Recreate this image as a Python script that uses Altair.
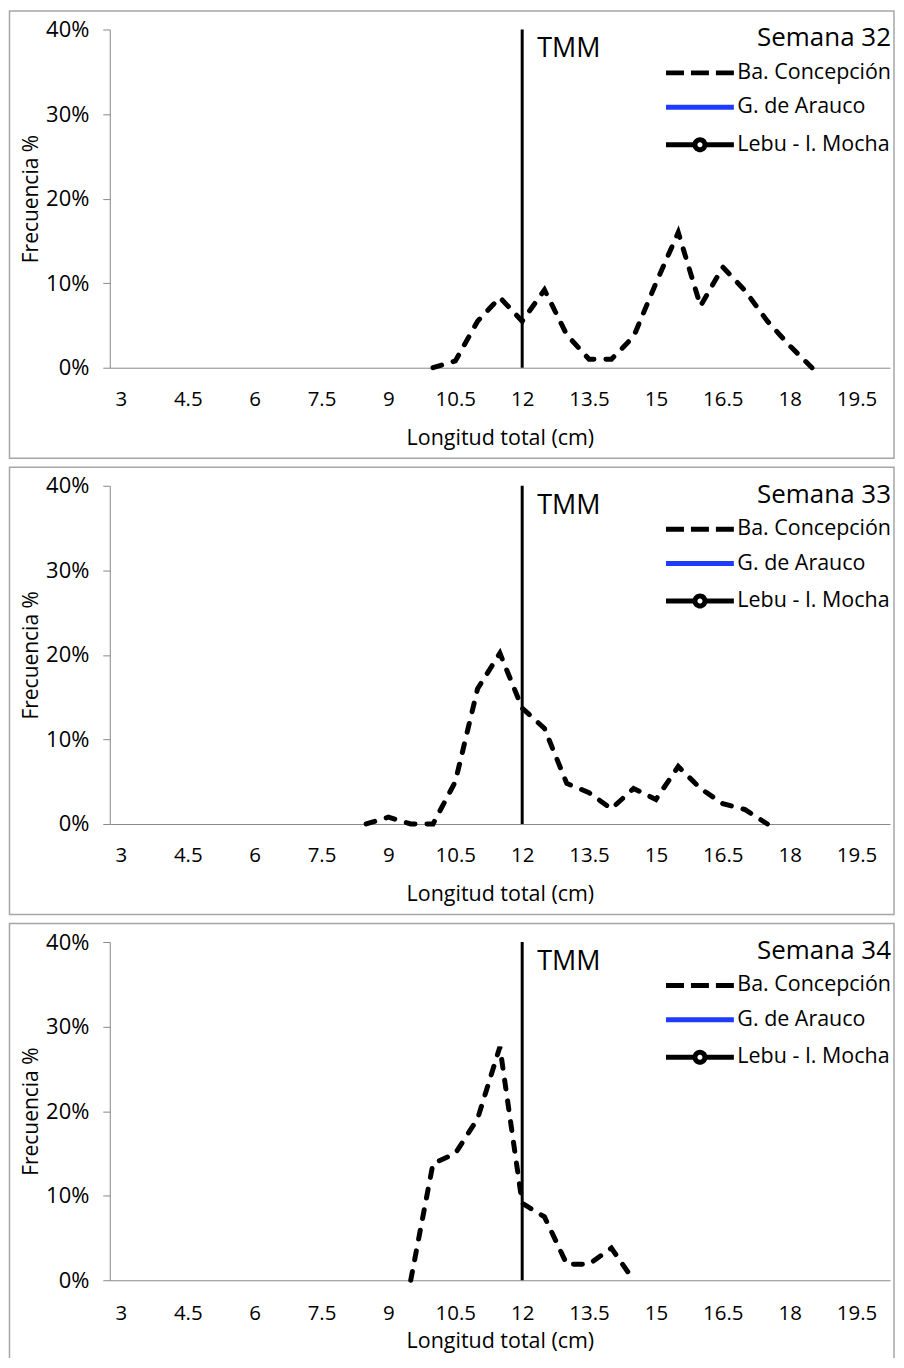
import altair as alt
import pandas as pd

FONT = "Open Sans"

# x axis tick labels (cm)
tick_labels = [3, 4.5, 6, 7.5, 9, 10.5, 12, 13.5, 15, 16.5, 18, 19.5]
y_ticks = [0, 0.1, 0.2, 0.3, 0.4]
tmm = 12

series = ["Ba. Concepción", "G. de Arauco", "Lebu - I. Mocha"]
series_colors = ["#000000", "#1e3cff", "#000000"]
legend_dash = [[18, 7], [1, 0], [1, 0]]
series_shapes = [
    "M-3.4,0L3.4,0",
    "M-3.4,0L3.4,0",
    "M-3.4,0L-0.5,0M0.5,0L3.4,0M-0.5,0A0.5,0.5,0,1,0,0.5,0A0.5,0.5,0,1,0,-0.5,0Z",
]

# Semana 32 - Ba. Concepción
w32_len = [10, 10.5, 11, 11.5, 12, 12.5, 13, 13.5, 14, 14.5, 15, 15.5, 16, 16.5, 17, 17.5, 18, 18.5]
w32_pct = [0, 0.8, 5.5, 8.3, 5.5, 9.2, 3.9, 1.0, 1.0, 3.7, 10.0, 16.0, 7.3, 11.9, 9.1, 5.5, 2.6, 0]

# Semana 33 - Ba. Concepción
w33_len = [8.5, 9, 9.5, 10, 10.5, 11, 11.5, 12, 12.5, 13, 13.5, 14, 14.5, 15, 15.5, 16, 16.5, 17, 17.5]
w33_pct = [0, 0.8, 0, 0, 5.0, 16.0, 20.2, 13.7, 11.3, 4.8, 3.7, 1.8, 4.2, 2.9, 6.8, 4.2, 2.4, 1.7, 0]

# Semana 34 - Ba. Concepción
w34_len = [9.5, 10, 10.5, 11, 11.5, 12, 12.5, 13, 13.5, 14, 14.5]
w34_pct = [0, 13.8, 15.0, 19.1, 27.6, 9.1, 7.5, 1.9, 1.9, 3.8, 0]

W = 782
H = 339
FRAME_L = -100.5
FRAME_R = W + 4
FRAME_T = -18.5


def panel(lengths, pcts, week, frame_bottom, open_bottom, x_label_pad, x_title_pad):
    df = pd.DataFrame({
        "longitud": lengths,
        "frecuencia": [p / 100 for p in pcts],
        "serie": [series[0]] * len(lengths),
    })
    empty = pd.DataFrame({
        "longitud": pd.Series([], dtype=float),
        "frecuencia": pd.Series([], dtype=float),
        "serie": pd.Series([], dtype=str),
    })
    tmm_df = pd.DataFrame({"longitud": [tmm], "label": ["TMM"]})

    x = alt.X(
        "longitud:Q",
        scale=alt.Scale(domain=[2.75, 20.25], nice=False, zero=False),
        axis=alt.Axis(
            values=tick_labels, format=".1~f", title="Longitud total (cm)",
            ticks=False, grid=False, labelPadding=x_label_pad, titlePadding=x_title_pad,
            labelFontSize=20.5, titleFontSize=21.5, labelFont=FONT, titleFont=FONT,
            titleFontWeight="normal", domainColor="#888888", labelColor="#000000",
            titleColor="#000000", labelFlush=False,
        ),
    )
    y = alt.Y(
        "frecuencia:Q",
        scale=alt.Scale(domain=[0, 0.4], nice=False, zero=True),
        axis=alt.Axis(
            values=y_ticks, format=".0%", title="Frecuencia %", grid=False,
            tickSize=7, tickColor="#888888", domainColor="#888888",
            labelPadding=14, titlePadding=4.5, labelFontSize=22, titleFontSize=21,
            labelFont=FONT, titleFont=FONT, titleFontWeight="normal",
            labelColor="#000000", titleColor="#000000",
        ),
    )
    legend = alt.Legend(
        title=f"Semana {week}", orient="none", legendX=579, legendY=-4,
        titleFontSize=26, titleFont=FONT, titleFontWeight="normal", titleColor="#000000",
        titleAnchor="end", titleAlign="right", titlePadding=9,
        labelFontSize=21.5, labelFont=FONT, labelColor="#000000", labelOffset=25,
        symbolSize=400, symbolStrokeWidth=5, symbolOpacity=1, rowPadding=11.5, padding=0,
    )
    color = alt.Color("serie:N", scale=alt.Scale(domain=series, range=series_colors), legend=legend)
    dash = alt.StrokeDash("serie:N", scale=alt.Scale(domain=series, range=legend_dash), legend=legend)
    shape = alt.Shape("serie:N", scale=alt.Scale(domain=series, range=series_shapes), legend=legend)

    fw = FRAME_R - FRAME_L
    fh = frame_bottom - FRAME_T
    frame_style = dict(fillOpacity=0, stroke="#a6a6a6", strokeWidth=1.5)
    if open_bottom:
        # frame continues past the bottom of the page: no bottom edge
        frame_style["strokeDash"] = [fw + fh, fw, fh + 10, 0]
    border = alt.Chart(tmm_df).mark_rect(**frame_style).encode(
        x=alt.value(FRAME_L), x2=alt.value(FRAME_R), y=alt.value(FRAME_T), y2=alt.value(frame_bottom)
    )
    line = alt.Chart(df).mark_line(
        strokeWidth=5, strokeCap="round", strokeDash=[9, 12]
    ).encode(x=x, y=y, color=color)
    pts = alt.Chart(empty).mark_point(strokeWidth=5, filled=False, opacity=1).encode(
        x=x, y=y, color=color, shape=shape, strokeDash=dash
    )
    rule = alt.Chart(tmm_df).mark_rule(color="#000000", strokeWidth=3).encode(
        x="longitud:Q", y=alt.datum(0), y2=alt.datum(0.4)
    )
    text = alt.Chart(tmm_df).mark_text(
        align="left", baseline="middle", dx=15, dy=20, fontSize=27, font=FONT, color="#000000"
    ).encode(x="longitud:Q", y=alt.datum(0.4), text="label:N")

    return alt.layer(border, rule, line, pts, text).properties(width=W, height=H)


chart = alt.vconcat(
    panel(w32_len, w32_pct, 32, H + 90.7, False, 22, 17),
    panel(w33_len, w33_pct, 33, H + 90.7, False, 22, 17),
    panel(w34_len, w34_pct, 34, H + 78, True, 23, 7),
    spacing=6.3,
).resolve_scale(
    color="independent", strokeDash="independent", shape="independent"
).properties(padding=0).configure_view(stroke="transparent")

chart.save("out.html", embed_options={"renderer": "svg", "actions": False})
